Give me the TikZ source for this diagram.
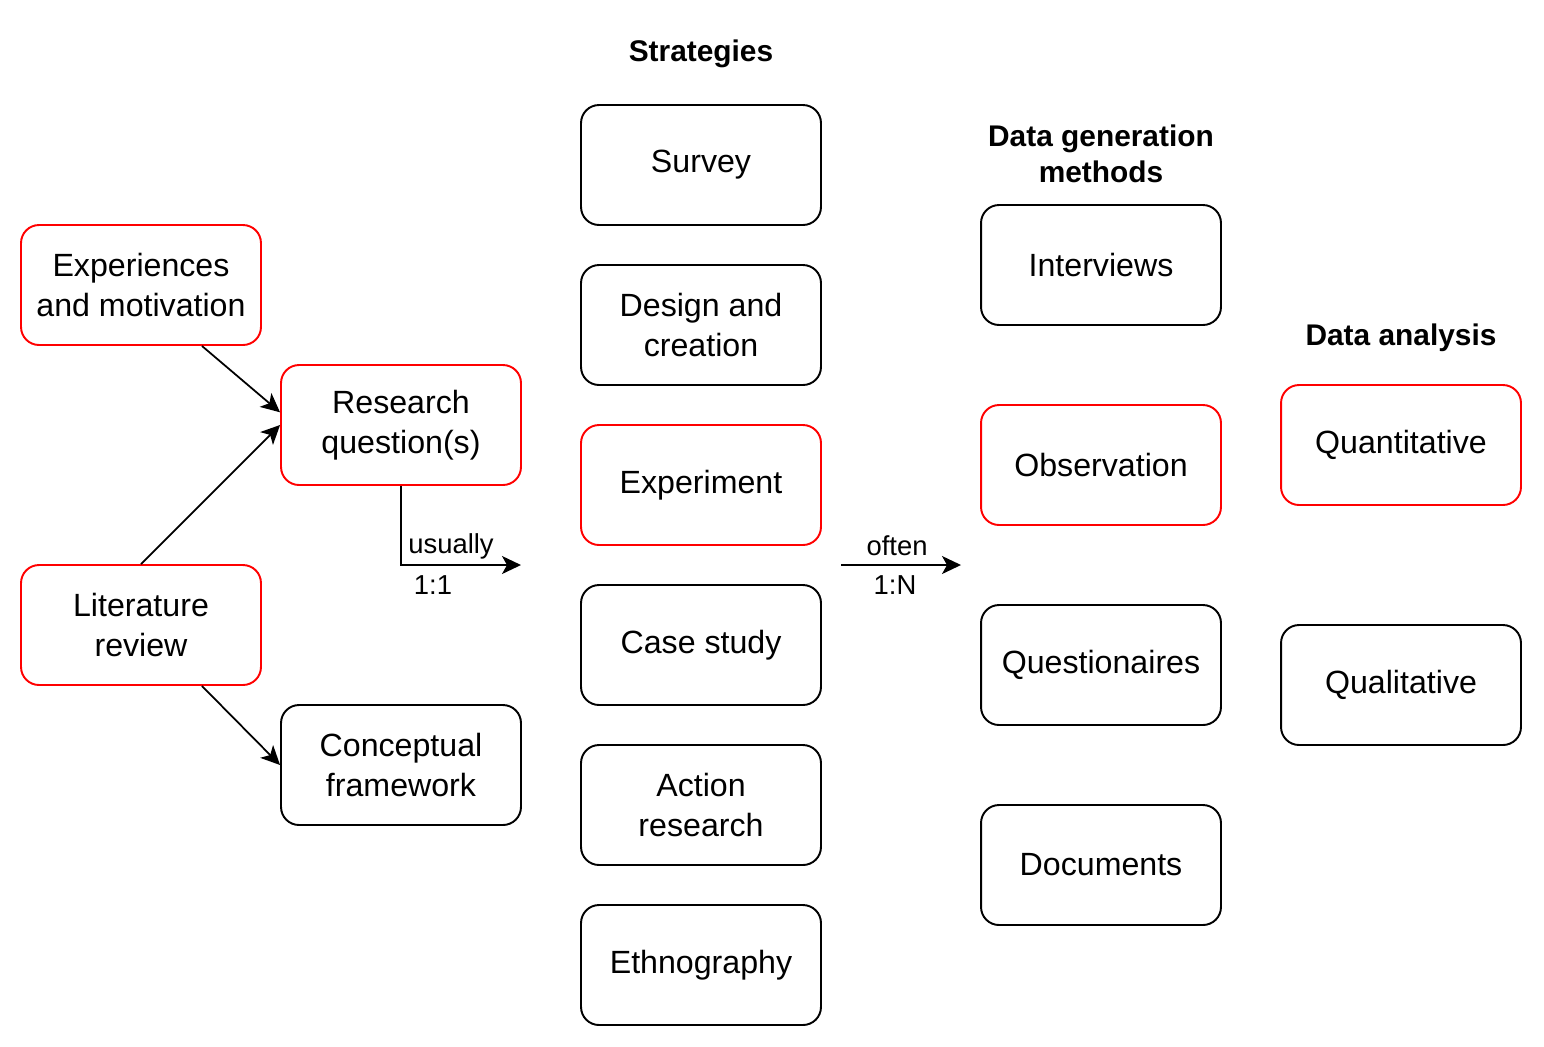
\documentclass[tikz,border=0pt]{standalone}
\usepackage{fontspec}
\setmainfont{Liberation Sans}
\usetikzlibrary{arrows.meta}

\definecolor{hlred}{HTML}{FF0000}

\tikzset{
  box/.style={draw=black, line width=1.1pt, rounded corners=0.36cm,
              minimum width=4.8cm, minimum height=2.4cm, align=center,
              font=\fontsize{18.3pt}{22.8pt}\selectfont},
  hlbox/.style={box, draw=hlred},
  head/.style={align=center, font=\fontsize{17pt}{20.8pt}\selectfont\bfseries},
  lbl/.style={inner sep=0pt, font=\fontsize{15.6pt}{18pt}\selectfont},
  arr/.style={-{Stealth[length=0.38cm,width=0.36cm,inset=0.1cm]}, line width=1pt},
}

\begin{document}
\begin{tikzpicture}[x=0.02cm, y=-0.02cm]
  \pgfmathsetmacro\colA{141}
  \pgfmathsetmacro\colB{401}
  \pgfmathsetmacro\colC{701}
  \pgfmathsetmacro\colD{1101}
  \pgfmathsetmacro\colE{1401}
  \pgfmathsetmacro\sstep{160}   % spacing of strategy boxes
  \pgfmathsetmacro\dstep{200}   % spacing of data generation boxes

  \useasboundingbox (0,0) rectangle (1544,1046);

% column headings
  \node[head] (hStrat) at (\colC,54) {Strategies};
  \node[head] (hGen) at (\colD,154) {Data generation\\methods};
  \node[head] (hAna) at (\colE,338) {Data analysis};

% left part
  \node[hlbox] (exp) at (\colA,285) {Experiences\\and motivation};
  \node[hlbox] (rq) at (\colB,425) {Research\\question(s)};
  \node[hlbox] (lit) at (\colA,625) {Literature\\review};
  \node[box] (conc) at (\colB,765) {Conceptual\\framework};

% strategies
  \node[box] (survey) at (\colC,165) {Survey};
  \node[box] (design) at (\colC,165+\sstep) {Design and\\creation};
  \node[hlbox] (expmt) at (\colC,165+2*\sstep) {Experiment};
  \node[box] (cases) at (\colC,165+3*\sstep) {Case study};
  \node[box] (action) at (\colC,165+4*\sstep) {Action\\research};
  \node[box] (ethno) at (\colC,165+5*\sstep) {Ethnography};

% data generation methods
  \node[box] (interv) at (\colD,265) {Interviews};
  \node[hlbox] (observ) at (\colD,265+\dstep) {Observation};
  \node[box] (quest) at (\colD,265+2*\dstep) {Questionaires};
  \node[box] (docs) at (\colD,265+3*\dstep) {Documents};

% data analysis
  \node[hlbox] (quant) at (\colE,445) {Quantitative};
  \node[box] (qual) at (\colE,685) {Qualitative};

% connectors
  \draw[arr] (exp.-45) -- (rq.174);
  \draw[arr] (lit.north) -- (rq.west);
  \draw[arr] (lit.-45) -- (conc.west);

  \coordinate (usEnd) at (521,565);
  \draw[arr] (rq.south) |- (usEnd);
  \node[lbl] (usually) at (451,546) {usually};
  \node[lbl] (oneone) at (433,585) {1:1};

  \coordinate (ofStart) at (841,565);
  \coordinate (ofEnd) at (961,565);
  \draw[arr] (ofStart) -- (ofEnd);
  \node[lbl] (often) at (897,546) {often};
  \node[lbl] (onen) at (895,585) {1:N};
\end{tikzpicture}
\end{document}
